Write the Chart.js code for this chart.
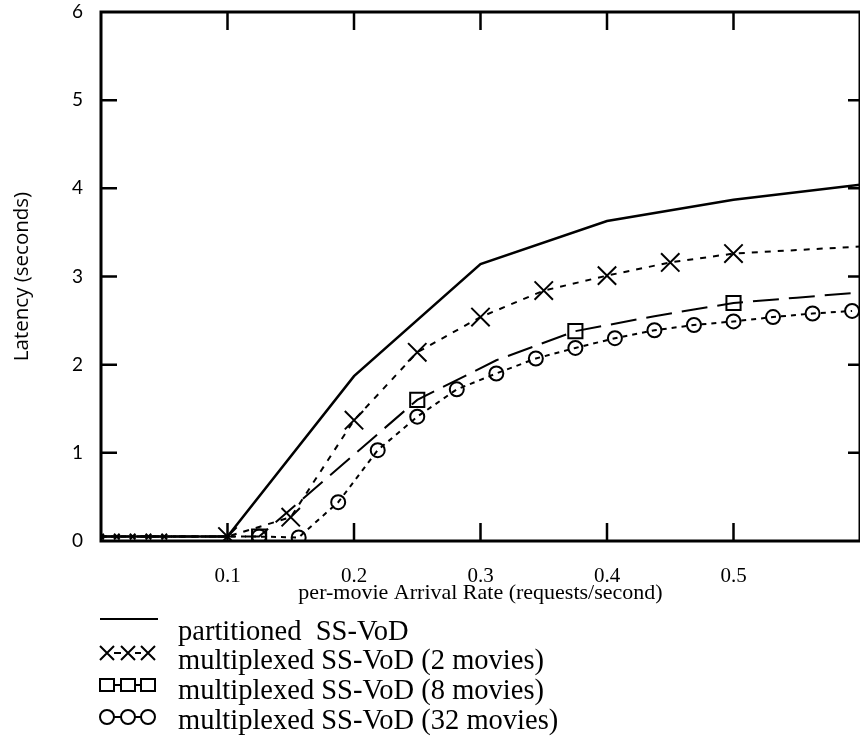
<!DOCTYPE html>
<html>
<head>
<meta charset="utf-8">
<script src="https://cdn.jsdelivr.net/npm/chart.js@4"></script>
<style>
  body { margin: 0; background: #fff; }
</style>
</head>
<body>
<canvas id="chart1" width="860" height="740"></canvas>
<script>
// axis ticks
const xTicks = [0.1, 0.2, 0.3, 0.4, 0.5];
const xTickLabels = ['0.1', '0.2', '0.3', '0.4', '0.5'];
const yTicks = [0, 1, 2, 3, 4, 5, 6];

// partitioned SS-VoD
const partX = [0, 0.1, 0.2, 0.3, 0.4, 0.5, 0.6];
const partY = [0.05, 0.05, 1.87, 3.14, 3.63, 3.87, 4.04];

// multiplexed, 2 movies
const mux2X = [0, 0.0125, 0.025, 0.0375, 0.05, 0.1, 0.15, 0.2, 0.25, 0.3, 0.35, 0.4, 0.45, 0.5, 0.6];
const mux2Y = [0.05, 0.05, 0.05, 0.05, 0.05, 0.05, 0.27, 1.37, 2.14, 2.54, 2.84, 3.01, 3.16, 3.26, 3.34];

// multiplexed, 8 movies
const mux8X = [0, 0.125, 0.25, 0.3125, 0.375, 0.4375, 0.5, 0.55, 0.6];
const mux8Y = [0.05, 0.05, 1.6, 2.05, 2.38, 2.55, 2.7, 2.76, 2.82];

// multiplexed, 32 movies (one sample every 1/32)
const mux32X = [0, 0.03125, 0.0625, 0.09375, 0.125, 0.15625, 0.1875, 0.21875, 0.25, 0.28125,
                0.3125, 0.34375, 0.375, 0.40625, 0.4375, 0.46875, 0.5, 0.53125, 0.5625, 0.59375];
const mux32Y = [0.05, 0.05, 0.05, 0.05, 0.05, 0.04, 0.44, 1.03, 1.41, 1.72,
                1.9, 2.07, 2.19, 2.3, 2.39, 2.45, 2.49, 2.54, 2.58, 2.61];

const seriesNames = [
    'partitioned  SS-VoD',
    'multiplexed SS-VoD (2 movies)',
    'multiplexed SS-VoD (8 movies)',
    'multiplexed SS-VoD (32 movies)'
];

function toPoints(xs, ys) {
    return xs.map((x, i) => ({ x: x, y: ys[i] }));
}

// draws the mirrored frame and the inward tick marks
const framePlugin = {
    id: 'frame',
    afterDatasetsDraw(chart) {
        const { ctx, chartArea: a, scales } = chart;
        ctx.save();
        ctx.strokeStyle = '#000';
        ctx.lineWidth = 3;
        ctx.strokeRect(a.left, a.top, a.right - a.left, a.bottom - a.top);
        ctx.lineWidth = 2.5;
        ctx.beginPath();
        xTicks.forEach(v => {
            const px = scales.x.getPixelForValue(v);
            ctx.moveTo(px, a.bottom); ctx.lineTo(px, a.bottom - 18);
            ctx.moveTo(px, a.top); ctx.lineTo(px, a.top + 18);
        });
        yTicks.slice(1, -1).forEach(v => {
            const py = scales.y.getPixelForValue(v);
            ctx.moveTo(a.left, py); ctx.lineTo(a.left + 16, py);
            ctx.moveTo(a.right, py); ctx.lineTo(a.right - 12, py);
        });
        ctx.stroke();
        ctx.restore();
    }
};

function drawMark(ctx, style, x, y) {
    ctx.beginPath();
    if (style === 'crossRot') {
        ctx.moveTo(x - 7, y - 7); ctx.lineTo(x + 7, y + 7);
        ctx.moveTo(x - 7, y + 7); ctx.lineTo(x + 7, y - 7);
    } else if (style === 'rect') {
        ctx.rect(x - 7, y - 6, 14, 12);
    } else {
        ctx.arc(x, y, 7, 0, Math.PI * 2);
    }
    ctx.stroke();
}

// legend under the axis title, drawn by hand like the original figure
const legendPlugin = {
    id: 'figLegend',
    afterDraw(chart) {
        const ctx = chart.ctx;
        const rows = [619, 653, 685, 717];
        const baselines = [640, 669, 699, 729];
        ctx.save();
        ctx.strokeStyle = '#000';
        ctx.fillStyle = '#000';
        chart.data.datasets.forEach((ds, i) => {
            const y = rows[i];
            ctx.lineWidth = 2;
            if (i === 0) {
                ctx.beginPath();
                ctx.moveTo(100, y); ctx.lineTo(158, y);
                ctx.stroke();
            } else {
                ctx.beginPath();
                ctx.moveTo(114, y); ctx.lineTo(121, y);
                ctx.moveTo(135, y); ctx.lineTo(141, y);
                ctx.stroke();
                [107, 128, 148].forEach(x => drawMark(ctx, ds.pointStyle, x, y));
            }
            ctx.font = '28.5px "Liberation Serif"';
            ctx.textBaseline = 'alphabetic';
            ctx.textAlign = 'left';
            ctx.fillText(ds.label, 178, baselines[i]);
        });
        ctx.restore();
    }
};

const chart1 = new Chart(document.getElementById('chart1'), {
    type: 'line',
    data: {
        datasets: [{
            label: seriesNames[0],
            data: toPoints(partX, partY),
            borderColor: '#000',
            borderWidth: 2.5,
            pointRadius: 0,
            pointStyle: 'line'
        }, {
            label: seriesNames[1],
            data: toPoints(mux2X, mux2Y),
            borderColor: '#000',
            borderWidth: 2,
            borderDash: [6, 7],
            pointStyle: 'crossRot',
            pointRadius: mux2X.map(x => x >= 0.6 ? 0 : (x < 0.1 ? 4 : 13)),
            pointBorderWidth: 2,
            pointBorderColor: '#000',
            pointBackgroundColor: 'transparent'
        }, {
            label: seriesNames[2],
            data: toPoints(mux8X, mux8Y),
            borderColor: '#000',
            borderWidth: 2,
            borderDash: [26, 10],
            pointStyle: 'rect',
            pointRadius: mux8X.map(x => (x > 0 && (x * 8) % 1 === 0) ? 10 : 0),
            pointBorderWidth: 2,
            pointBorderColor: '#000',
            pointBackgroundColor: 'transparent'
        }, {
            label: seriesNames[3],
            data: toPoints(mux32X, mux32Y),
            borderColor: '#000',
            borderWidth: 2,
            borderDash: [5, 5],
            pointStyle: 'circle',
            pointRadius: mux32X.map(x => x >= 0.125 ? 7 : 0),
            pointBorderWidth: 2,
            pointBorderColor: '#000',
            pointBackgroundColor: 'transparent'
        }]
    },
    options: {
        responsive: false,
        animation: false,
        devicePixelRatio: 1,
        layout: { autoPadding: false, padding: { top: 12, right: 0, left: 0, bottom: 0 } },
        plugins: {
            legend: { display: false },
            tooltip: { enabled: false }
        },
        elements: { line: { tension: 0 } },
        scales: {
            x: {
                type: 'linear',
                min: 0,
                max: 0.6,
                afterBuildTicks: scale => { scale.ticks = xTicks.map(v => ({ value: v })); },
                afterFit: scale => {
                    scale.height = 199;
                    scale.paddingLeft = 0;
                    scale.paddingRight = 0;
                },
                grid: { display: false },
                border: { display: false },
                ticks: {
                    color: '#000',
                    padding: 15,
                    font: { family: '"Liberation Serif"', size: 21 },
                    callback: (value) => xTickLabels[xTicks.indexOf(value)]
                },
                title: {
                    display: true,
                    text: 'per-movie Arrival Rate (requests/second)',
                    color: '#000',
                    font: { family: '"Liberation Serif"', size: 22 },
                    padding: { top: 0, bottom: 134 }
                }
            },
            y: {
                min: 0,
                max: 6,
                afterBuildTicks: scale => { scale.ticks = yTicks.map(v => ({ value: v })); },
                afterFit: scale => {
                    scale.width = 101;
                    scale.paddingTop = 0;
                    scale.paddingBottom = 0;
                },
                grid: { display: false },
                border: { display: false },
                ticks: {
                    color: '#000',
                    padding: 10,
                    font: { family: 'Lato', size: 19 }
                },
                title: {
                    display: true,
                    text: 'Latency (seconds)',
                    color: '#000',
                    font: { family: '"Open Sans"', size: 20.5 },
                    padding: { top: 10, bottom: 0 }
                }
            }
        }
    },
    plugins: [framePlugin, legendPlugin]
});
</script>
</body>
</html>
